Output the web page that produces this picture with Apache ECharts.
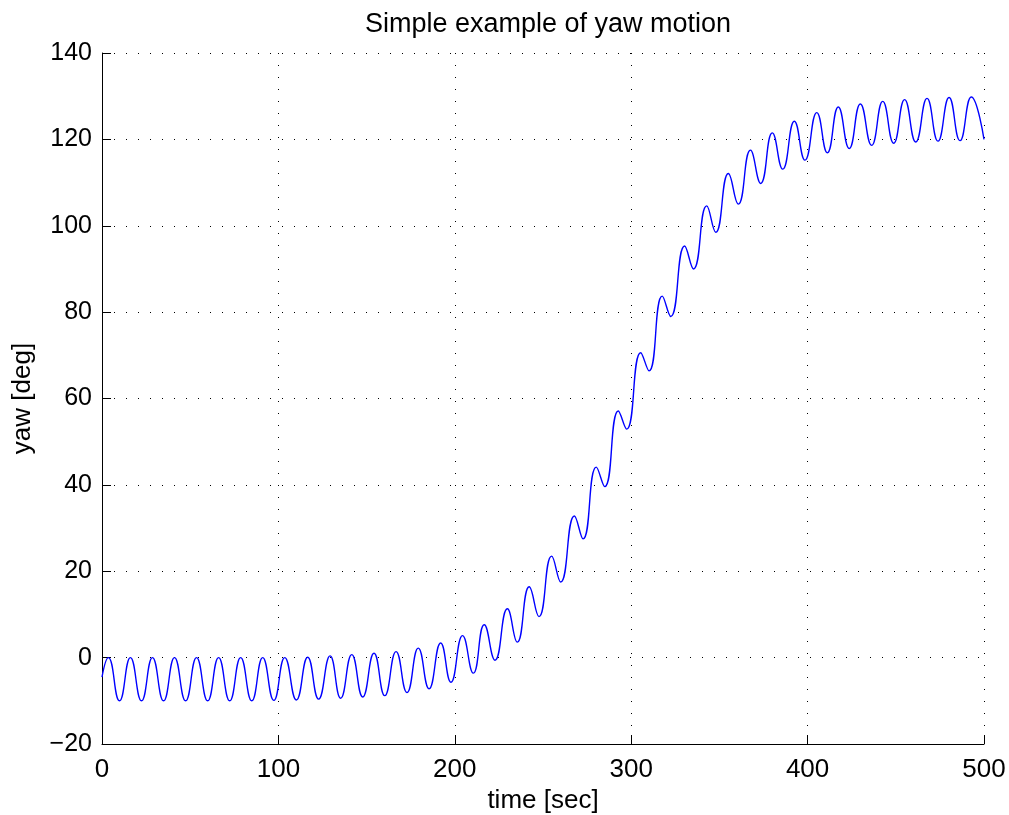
<!DOCTYPE html>
<html>
<head>
<meta charset="utf-8">
<script src="https://cdn.jsdelivr.net/npm/echarts@6/dist/echarts.min.js"></script>
<style>
html,body{margin:0;padding:0;background:#fff;}
#chart{width:1009px;height:815px;}
</style>
</head>
<body>
<div id="chart"></div>
<script>
// Time [sec] of samples read at curve extrema
const timeSec = [0, 3.6, 9.9, 16.1, 22.4, 28.6, 34.9, 41.1, 47.4, 53.6, 59.9, 66.1, 72.4, 78.6, 84.9, 91.1, 97.4, 103.6,
  110.2, 116.6, 122.8, 129.3, 135.3, 141.6, 147.8, 154.2, 160.3, 166.7, 172.9, 179.3, 185.4, 192.0, 197.8, 204.4,
  210.5, 216.7, 222.8, 229.8, 235.4, 242.2, 247.7, 254.9, 260.0, 267.8, 272.7, 280.2, 285.0, 292.7, 297.4, 305.4,
  310.1, 317.6, 322.4, 330.3, 335.3, 342.8, 347.9, 355.1, 360.7, 367.6, 373.4, 380.0, 385.9, 392.5, 398.5, 405.2,
  411.2, 417.4, 423.6, 429.9, 436.3, 442.6, 448.8, 455.0, 461.3, 467.7, 473.9, 480.2, 486.4, 492.8, 500];
// Yaw [deg] at those samples
const yawDeg = [-4.5, 0, -10, 0, -10, 0, -10, 0, -10, 0, -10, 0, -10, 0, -10, 0, -9.9, 0,
  -9.8, 0.1, -9.6, 0.4, -9.4, 0.7, -9.1, 1.0, -8.8, 1.4, -8.1, 2.2, -7.2, 3.4, -5.7, 5.1,
  -3.6, 7.6, -0.6, 11.3, 3.6, 16.4, 9.5, 23.5, 17.5, 32.8, 27.5, 44.1, 39.6, 57.1, 52.9, 70.6,
  66.4, 83.7, 79.0, 95.3, 90.0, 104.6, 98.5, 112.1, 105.0, 117.5, 109.8, 121.5, 113.1, 124.2, 115.2, 126.2,
  116.9, 127.5, 117.9, 128.2, 118.6, 128.8, 119.1, 129.2, 119.4, 129.5, 119.6, 129.7, 119.7, 129.8, 120.0];

const titleText = 'Simple example of yaw motion';
const xAxisName = 'time [sec]';
const yAxisName = 'yaw [deg]';

const points = timeSec.map((t, i) => [t, yawDeg[i]]);
const FONT = '"Liberation Sans", Arial, Helvetica, sans-serif';
const minusFmt = v => String(v).replace('-', '\u2212');

const chart = echarts.init(document.getElementById('chart'), null, {renderer: 'canvas'});
chart.setOption({
  animation: false,
  backgroundColor: '#ffffff',
  title: {
    text: titleText,
    left: 543, top: 6, textAlign: 'center',
    textStyle: {fontFamily: FONT, fontSize: 27, fontWeight: 'normal', color: '#000'}
  },
  grid: {left: 102, right: 25, top: 53, bottom: 71, containLabel: false, outerBoundsMode: 'none'},
  xAxis: {
    type: 'value', min: 0, max: 500, interval: 100,
    name: xAxisName, nameLocation: 'middle', nameGap: 44,
    nameTextStyle: {fontFamily: FONT, fontSize: 26, color: '#000'},
    axisLine: {show: true, onZero: false, lineStyle: {color: '#000', width: 1}},
    axisTick: {show: true, inside: true, length: 9, lineStyle: {color: '#000'}},
    axisLabel: {fontFamily: FONT, fontSize: 26, color: '#000', margin: 13, formatter: minusFmt},
    splitLine: {show: true, lineStyle: {color: '#000', width: 1, type: [1, 11]}}
  },
  yAxis: {
    type: 'value', min: -20, max: 140, interval: 20,
    name: yAxisName, nameLocation: 'middle', nameGap: 66, nameRotate: 90,
    nameTextStyle: {fontFamily: FONT, fontSize: 26, color: '#000'},
    axisLine: {show: true, onZero: false, lineStyle: {color: '#000', width: 1}},
    axisTick: {show: true, inside: true, length: 9, lineStyle: {color: '#000'}},
    axisLabel: {fontFamily: FONT, fontSize: 25, color: '#000', margin: 10, formatter: minusFmt},
    splitLine: {show: true, lineStyle: {color: '#000', width: 1, type: [1, 11]}}
  },
  series: [{
    type: 'line',
    data: points,
    smooth: 0.5,
    showSymbol: false,
    lineStyle: {color: '#0000ff', width: 1.4},
    clip: true
  }]
});
</script>
</body>
</html>
